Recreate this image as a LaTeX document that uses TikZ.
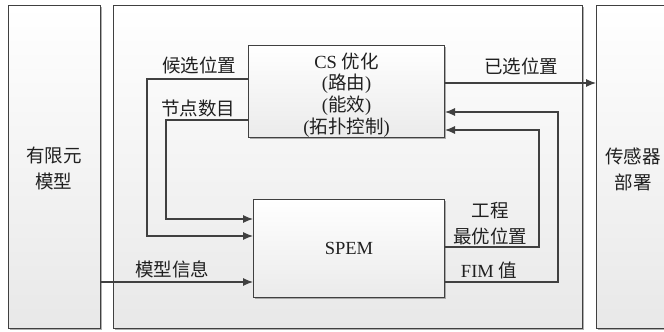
\documentclass[tikz,border=0pt]{standalone}
\usepackage{fontspec}
\setmainfont{Liberation Serif}
\newfontfamily\cjk{Noto Sans CJK SC}
\usetikzlibrary{arrows.meta,shadows,calc}
\definecolor{ln}{HTML}{404040}
\definecolor{tx}{HTML}{202020}
\tikzset{
  panel/.style={draw=ln,line width=1pt,anchor=north west,inner sep=0pt,
    top color=white,bottom color=black!9,
    drop shadow={shadow xshift=1.6pt,shadow yshift=-1.6pt,fill=black!45,opacity=0.7}},
  blk/.style={draw=ln,line width=1pt,anchor=north west,inner sep=0pt,
    top color=white,bottom color=black!8,text=tx,align=center,
    drop shadow={shadow xshift=1.6pt,shadow yshift=-1.6pt,fill=black!45,opacity=0.7}},
  lbl/.style={text=tx,inner sep=0pt,align=center,font=\fontsize{18.5}{26}\selectfont},
  arr/.style={draw=ln,line width=1.1pt,-{Latex[length=10pt,width=8pt]}},
}
\begin{document}
\begin{tikzpicture}[x=1pt,y=-1pt]
\useasboundingbox (0,0) rectangle (664,332);
\clip (0,0) rectangle (664,332);
% panels
\node[panel,minimum width=92pt,minimum height=323pt] (fem) at (8,5) {};
\node[panel,minimum width=469pt,minimum height=323pt] (mid) at (113,5) {};
\node[panel,minimum width=90pt,minimum height=323pt] (dep) at (596,5) {};
\node[lbl] (femt) at (54,168) {\cjk 有限元\\\cjk 模型};
\node[lbl] (dept) at (633,169.5) {\cjk 传感器\\\cjk 部署};
% blocks
\node[blk,minimum width=196pt,minimum height=92pt] (cs) at (248,45) {};
\node[lbl,font=\fontsize{18.5}{21.7}\selectfont] (cst) at ([yshift=-3.5pt]cs.center)
  {CS {\cjk 优化}\\({\cjk 路由})\\({\cjk 能效})\\({\cjk 拓扑控制})};
\node[blk,minimum width=191pt,minimum height=98pt,font=\fontsize{18.5}{22}\selectfont] (spem) at (253,199) {SPEM};
% helper coordinates
\coordinate (y1) at (0,79);
\coordinate (y2) at (0,120);
\coordinate (k1) at (147,236);
\coordinate (k2) at (166,219);
\coordinate (y3) at (0,282);
\coordinate (y4) at (0,83);
\coordinate (k3) at (539,247);
\coordinate (k4) at (558,282);
\coordinate (y5) at (0,130);
\coordinate (y6) at (0,112);
% connectors
\draw[arr] (cs.west |- y1) -| (k1) -- (spem.west |- k1);
\draw[arr] (cs.west |- y2) -| (k2) -- (spem.west |- k2);
\draw[arr] (fem.east |- y3) -- (spem.west |- y3);
\draw[arr] (cs.east |- y4) -- (dep.west |- y4);
\draw[arr] (spem.east |- k3) -- (k3) |- (cs.east |- y5);
\draw[arr] (spem.east |- k4) -- (k4) |- (cs.east |- y6);
% labels
\node[lbl] (l1) at (199,65) {\cjk 候选位置};
\node[lbl] (l2) at (198,108) {\cjk 节点数目};
\node[lbl] (l3) at (172,269) {\cjk 模型信息};
\node[lbl] (l4) at (521,66) {\cjk 已选位置};
\node[lbl] (l5) at (490,223.5) {\cjk 工程\\\cjk 最优位置};
\node[lbl] (l6) at (489,270) {FIM {\cjk 值}};
\end{tikzpicture}
\end{document}
